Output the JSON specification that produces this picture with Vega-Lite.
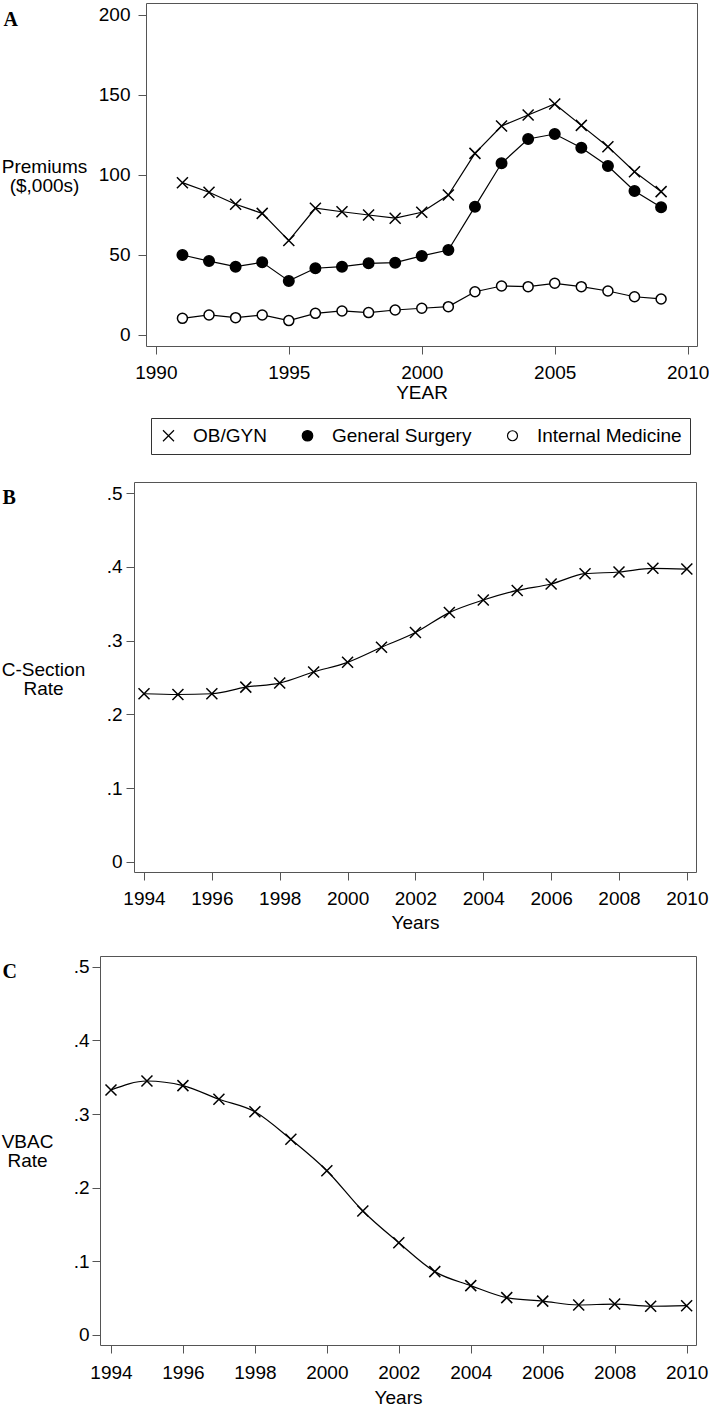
{
  "$schema": "https://vega.github.io/schema/vega-lite/v6.json",
  "padding": {"left": -3, "top": 2, "right": 0, "bottom": 0},
  "background": "white",
  "datasets": {
    "premiums": [
      {"year": 1991, "series": "OB/GYN", "value": 95.2},
      {"year": 1992, "series": "OB/GYN", "value": 89.2},
      {"year": 1993, "series": "OB/GYN", "value": 81.7},
      {"year": 1994, "series": "OB/GYN", "value": 76},
      {"year": 1995, "series": "OB/GYN", "value": 59},
      {"year": 1996, "series": "OB/GYN", "value": 79.2},
      {"year": 1997, "series": "OB/GYN", "value": 77},
      {"year": 1998, "series": "OB/GYN", "value": 75},
      {"year": 1999, "series": "OB/GYN", "value": 73},
      {"year": 2000, "series": "OB/GYN", "value": 76.7},
      {"year": 2001, "series": "OB/GYN", "value": 87.5},
      {"year": 2002, "series": "OB/GYN", "value": 113.5},
      {"year": 2003, "series": "OB/GYN", "value": 130.6},
      {"year": 2004, "series": "OB/GYN", "value": 137.5},
      {"year": 2005, "series": "OB/GYN", "value": 144.4},
      {"year": 2006, "series": "OB/GYN", "value": 131},
      {"year": 2007, "series": "OB/GYN", "value": 117.7},
      {"year": 2008, "series": "OB/GYN", "value": 102},
      {"year": 2009, "series": "OB/GYN", "value": 89.6},
      {"year": 1991, "series": "General Surgery", "value": 50},
      {"year": 1992, "series": "General Surgery", "value": 46.2},
      {"year": 1993, "series": "General Surgery", "value": 42.7},
      {"year": 1994, "series": "General Surgery", "value": 45.4},
      {"year": 1995, "series": "General Surgery", "value": 33.8},
      {"year": 1996, "series": "General Surgery", "value": 41.7},
      {"year": 1997, "series": "General Surgery", "value": 42.7},
      {"year": 1998, "series": "General Surgery", "value": 44.8},
      {"year": 1999, "series": "General Surgery", "value": 45.2},
      {"year": 2000, "series": "General Surgery", "value": 49.4},
      {"year": 2001, "series": "General Surgery", "value": 53.1},
      {"year": 2002, "series": "General Surgery", "value": 80.2},
      {"year": 2003, "series": "General Surgery", "value": 107.3},
      {"year": 2004, "series": "General Surgery", "value": 122.5},
      {"year": 2005, "series": "General Surgery", "value": 125.6},
      {"year": 2006, "series": "General Surgery", "value": 117},
      {"year": 2007, "series": "General Surgery", "value": 105.6},
      {"year": 2008, "series": "General Surgery", "value": 90},
      {"year": 2009, "series": "General Surgery", "value": 79.8},
      {"year": 1991, "series": "Internal Medicine", "value": 10.4},
      {"year": 1992, "series": "Internal Medicine", "value": 12.5},
      {"year": 1993, "series": "Internal Medicine", "value": 10.8},
      {"year": 1994, "series": "Internal Medicine", "value": 12.5},
      {"year": 1995, "series": "Internal Medicine", "value": 9},
      {"year": 1996, "series": "Internal Medicine", "value": 13.5},
      {"year": 1997, "series": "Internal Medicine", "value": 15},
      {"year": 1998, "series": "Internal Medicine", "value": 14},
      {"year": 1999, "series": "Internal Medicine", "value": 15.6},
      {"year": 2000, "series": "Internal Medicine", "value": 16.7},
      {"year": 2001, "series": "Internal Medicine", "value": 17.7},
      {"year": 2002, "series": "Internal Medicine", "value": 27},
      {"year": 2003, "series": "Internal Medicine", "value": 30.6},
      {"year": 2004, "series": "Internal Medicine", "value": 30.2},
      {"year": 2005, "series": "Internal Medicine", "value": 32.3},
      {"year": 2006, "series": "Internal Medicine", "value": 30.2},
      {"year": 2007, "series": "Internal Medicine", "value": 27.5},
      {"year": 2008, "series": "Internal Medicine", "value": 23.9},
      {"year": 2009, "series": "Internal Medicine", "value": 22.5}
    ],
    "csection": [
      {"year": 1994, "rate": 0.228},
      {"year": 1995, "rate": 0.227},
      {"year": 1996, "rate": 0.228},
      {"year": 1997, "rate": 0.237},
      {"year": 1998, "rate": 0.2425},
      {"year": 1999, "rate": 0.2575},
      {"year": 2000, "rate": 0.2706},
      {"year": 2001, "rate": 0.291},
      {"year": 2002, "rate": 0.311},
      {"year": 2003, "rate": 0.338},
      {"year": 2004, "rate": 0.355},
      {"year": 2005, "rate": 0.368},
      {"year": 2006, "rate": 0.3767},
      {"year": 2007, "rate": 0.3907},
      {"year": 2008, "rate": 0.393},
      {"year": 2009, "rate": 0.398},
      {"year": 2010, "rate": 0.397}
    ],
    "vbac": [
      {"year": 1994, "rate": 0.3326},
      {"year": 1995, "rate": 0.3448},
      {"year": 1996, "rate": 0.3385},
      {"year": 1997, "rate": 0.32},
      {"year": 1998, "rate": 0.303},
      {"year": 1999, "rate": 0.2656},
      {"year": 2000, "rate": 0.223},
      {"year": 2001, "rate": 0.1683},
      {"year": 2002, "rate": 0.1253},
      {"year": 2003, "rate": 0.086},
      {"year": 2004, "rate": 0.067},
      {"year": 2005, "rate": 0.0507},
      {"year": 2006, "rate": 0.046},
      {"year": 2007, "rate": 0.0407},
      {"year": 2008, "rate": 0.042},
      {"year": 2009, "rate": 0.039},
      {"year": 2010, "rate": 0.0398}
    ]
  },
  "spacing": 22,
  "vconcat": [
    {
      "spacing": 78,
      "vconcat": [
        {
          "spacing": 0,
          "hconcat": [
            {"width": 1, "height": 1, "data": {"values": []}, "mark": "point", "view": {"stroke": "transparent"}},
            {
              "width": 551,
              "height": 343,
              "data": {"name": "premiums"},
              "resolve": {"axis": {"x": "independent"}},
              "layer": [
                {"mark": {"type": "line", "color": "black", "strokeWidth": 1.2},
                 "encoding": {
                   "x": {"field": "year", "type": "quantitative",
                     "scale": {"domain": [1989.63, 2010.35], "nice": false, "zero": false},
                     "axis": {"orient": "bottom", "values": [1990, 1995, 2000, 2005, 2010], "format": "d", "title": "YEAR", "tickSize": 8, "labelPadding": 9, "titlePadding": 1}},
                   "y": {"field": "value", "type": "quantitative",
                     "scale": {"domain": [-6.9, 207.5], "nice": false, "zero": false},
                     "axis": {"values": [0, 50, 100, 150, 200], "title": ["Premiums", "($,000s)"], "titleAngle": 0, "titleAlign": "center", "titleBaseline": "alphabetic", "titleX": -102, "titleY": 169, "titleLineHeight": 19, "tickSize": 8, "labelPadding": 8}},
                   "detail": {"field": "series"}}},
                {"mark": {"type": "point", "stroke": "black", "strokeWidth": 1.5, "opacity": 1},
                 "encoding": {
                   "x": {"field": "year", "type": "quantitative",
                     "axis": {"orient": "top", "ticks": false, "labels": false, "domain": false, "title": "A", "titleX": -143, "titleY": 22, "titleAlign": "left", "titleAnchor": null, "titleBaseline": "alphabetic", "titleFont": "Liberation Serif", "titleFontSize": 20, "titleFontWeight": "bold"}},
                   "y": {"field": "value", "type": "quantitative"},
                   "shape": {"field": "series", "type": "nominal",
                     "scale": {"domain": ["OB/GYN", "General Surgery", "Internal Medicine"],
                       "range": ["M-1,-1L1,1M-1,1L1,-1", "circle", "circle"]},
                     "legend": {
                       "title": null, "orient": "none", "legendX": 153, "legendY": 415, "direction": "horizontal",
                       "strokeColor": "#333", "padding": 8, "symbolStrokeWidth": 1.2,
                       "labelFont": "Liberation Sans", "labelFontSize": 19, "labelColor": "black", "labelOffset": 15, "columnPadding": 31
                     }},
                   "fill": {"field": "series", "type": "nominal",
                     "scale": {"domain": ["OB/GYN", "General Surgery", "Internal Medicine"], "range": ["white", "black", "white"]}},
                   "size": {"field": "series", "type": "nominal",
                     "scale": {"domain": ["OB/GYN", "General Surgery", "Internal Medicine"], "range": [121, 100, 120]}}
                 }}
              ]
            }
          ]
        },
        {
          "spacing": 0,
          "hconcat": [
            {"width": 1, "height": 1, "data": {"values": []}, "mark": "point", "view": {"stroke": "transparent"}},
            {
              "width": 562,
              "height": 390,
              "data": {"name": "csection"},
              "resolve": {"axis": {"x": "independent"}},
              "layer": [
                {"mark": {"type": "line", "color": "black", "strokeWidth": 1.2, "interpolate": "monotone"},
                 "encoding": {
                   "x": {"field": "year", "type": "quantitative",
                     "scale": {"domain": [1993.705, 2010.27], "nice": false, "zero": false},
                     "axis": {"orient": "bottom", "values": [1994, 1996, 1998, 2000, 2002, 2004, 2006, 2008, 2010], "format": "d", "title": "Years", "tickSize": 8, "labelPadding": 9, "titlePadding": 5}},
                   "y": {"field": "rate", "type": "quantitative",
                     "scale": {"domain": [-0.0136, 0.515], "nice": false, "zero": false},
                     "axis": {"values": [0, 0.1, 0.2, 0.3, 0.4, 0.5], "labelExpr": "datum.value == 0 ? '0' : substring(format(datum.value, '.1f'), 1)", "title": ["C-Section", "Rate"], "titleAngle": 0, "titleAlign": "center", "titleBaseline": "alphabetic", "titleX": -91, "titleY": 193, "titleLineHeight": 19, "tickSize": 8, "labelPadding": 4}}}},
                {"mark": {"type": "point", "shape": "M-1,-1L1,1M-1,1L1,-1", "size": 121, "stroke": "black", "strokeWidth": 1.5, "fill": "white", "opacity": 1},
                 "encoding": {
                   "x": {"field": "year", "type": "quantitative",
                     "axis": {"orient": "top", "ticks": false, "labels": false, "domain": false, "title": "B", "titleX": -132, "titleY": 21, "titleAlign": "left", "titleAnchor": null, "titleBaseline": "alphabetic", "titleFont": "Liberation Serif", "titleFontSize": 20, "titleFontWeight": "bold"}},
                   "y": {"field": "rate", "type": "quantitative"}}}
              ]
            }
          ]
        }
      ]
    },
    {
      "spacing": 0,
      "hconcat": [
        {"width": 1, "height": 1, "data": {"values": []}, "mark": "point", "view": {"stroke": "transparent"}},
        {
          "width": 596,
          "height": 389,
          "data": {"name": "vbac"},
          "resolve": {"axis": {"x": "independent"}},
          "layer": [
            {"mark": {"type": "line", "color": "black", "strokeWidth": 1.2, "interpolate": "monotone"},
             "encoding": {
               "x": {"field": "year", "type": "quantitative",
                 "scale": {"domain": [1993.695, 2010.26], "nice": false, "zero": false},
                 "axis": {"orient": "bottom", "values": [1994, 1996, 1998, 2000, 2002, 2004, 2006, 2008, 2010], "format": "d", "title": "Years", "tickSize": 8, "labelPadding": 10, "titlePadding": 6}},
               "y": {"field": "rate", "type": "quantitative",
                 "scale": {"domain": [-0.0136, 0.5145], "nice": false, "zero": false},
                 "axis": {"values": [0, 0.1, 0.2, 0.3, 0.4, 0.5], "labelExpr": "datum.value == 0 ? '0' : substring(format(datum.value, '.1f'), 1)", "title": ["VBAC", "Rate"], "titleAngle": 0, "titleAlign": "center", "titleBaseline": "alphabetic", "titleX": -73, "titleY": 191, "titleLineHeight": 19, "tickSize": 8, "labelPadding": 3}}}},
            {"mark": {"type": "point", "shape": "M-1,-1L1,1M-1,1L1,-1", "size": 121, "stroke": "black", "strokeWidth": 1.5, "fill": "white", "opacity": 1},
             "encoding": {
               "x": {"field": "year", "type": "quantitative",
                 "axis": {"orient": "top", "ticks": false, "labels": false, "domain": false, "title": "C", "titleX": -98, "titleY": 21, "titleAlign": "left", "titleAnchor": null, "titleBaseline": "alphabetic", "titleFont": "Liberation Serif", "titleFontSize": 20, "titleFontWeight": "bold"}},
               "y": {"field": "rate", "type": "quantitative"}}}
          ]
        }
      ]
    }
  ],
  "config": {
    "font": "Liberation Sans",
    "view": {"stroke": "#555", "strokeWidth": 1},
    "axis": {"grid": false, "domain": false, "tickColor": "#555", "tickWidth": 1,
      "labelFont": "Liberation Sans", "labelFontSize": 19, "labelColor": "black",
      "titleFont": "Liberation Sans", "titleFontSize": 19, "titleFontWeight": "normal", "titleColor": "black"}
  }
}
